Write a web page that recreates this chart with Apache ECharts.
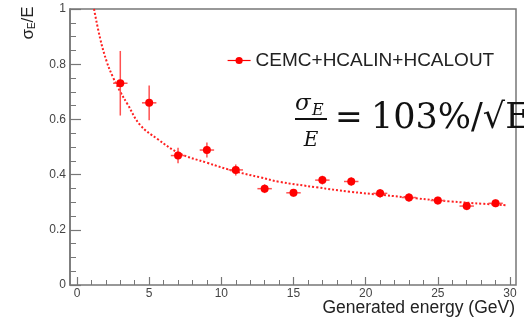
<!DOCTYPE html>
<html>
<head>
<meta charset="utf-8">
<script src="https://cdn.jsdelivr.net/npm/echarts@6/dist/echarts.min.js"></script>
<style>
  html, body { margin: 0; padding: 0; background: #fff; }
  #chart { width: 524px; height: 320px; }
</style>
</head>
<body>
<div id="chart"></div>
<script>
// Energy resolution of the combined calorimeter system vs. generated energy
const seriesName = 'CEMC+HCALIN+HCALOUT';
const xTitle = 'Generated energy (GeV)';
const energies   = [3, 5, 7, 9, 11, 13, 15, 17, 19, 21, 23, 25, 27, 29];
const resolution = [0.731, 0.660, 0.469, 0.489, 0.417, 0.349, 0.334, 0.380, 0.375, 0.332, 0.317, 0.306, 0.286, 0.296];
const resErr     = [0.117, 0.063, 0.028, 0.027, 0.020, 0.016, 0.014, 0.016, 0.015, 0.016, 0.015, 0.014, 0.015, 0.014];
const energyErr  = [0.5, 0.5, 0.5, 0.5, 0.5, 0.5, 0.5, 0.5, 0.5, 0.5, 0.5, 0.5, 0.5, 0.5];

// Fitted resolution curve, sampled along the energy axis
const fitEnergy = [1.18, 1.6, 2.06, 2.5, 3.0, 3.5, 4.37, 5.6, 7.1, 9.0, 11.0, 12.7, 14.0, 16.6, 18.9, 21.2, 23.5, 25.8, 28.2, 29.7];
const fitValue  = [1.0, 0.894, 0.809, 0.752, 0.700, 0.655, 0.580, 0.528, 0.477, 0.443, 0.411, 0.390, 0.374, 0.354, 0.338, 0.326, 0.314, 0.303, 0.294, 0.289];

const xTicks = { min: 0, max: 30, step: 5 };
const yTicks = { min: 0, max: 1, step: 0.2 };

const red = '#ff0000';
const axisGray = '#777777';
const labelFont = 'Liberation Sans';
const mathFont = '"DejaVu Serif"';

const points = energies.map((e, i) => [e, resolution[i]]);
const errBars = energies.map((e, i) => [e, resolution[i], energyErr[i], resErr[i]]);
const fitLine = fitEnergy.map((e, i) => [e, fitValue[i]]);

const chart = echarts.init(document.getElementById('chart'), null, { renderer: 'canvas' });

chart.setOption({
  backgroundColor: '#ffffff',
  animation: false,
  grid: [
    // frame + vertical axis
    { left: 70, right: 8, top: 9, bottom: 35, outerBoundsMode: 'none', containLabel: false,
      show: true, borderColor: axisGray, borderWidth: 1.5, backgroundColor: 'transparent' },
    // data area, energy axis starting a little right of the frame
    { left: 77, right: 14, top: 9, bottom: 35, outerBoundsMode: 'none', containLabel: false }
  ],
  xAxis: [
    { gridIndex: 0, type: 'value', min: 0, max: 1, show: false },
    {
      gridIndex: 1, type: 'value', min: xTicks.min, max: xTicks.max, interval: xTicks.step,
      axisLine: { show: false },
      axisTick: { show: true, inside: true, length: 8, lineStyle: { color: axisGray, width: 1.2 } },
      minorTick: { show: true, splitNumber: 5, length: 5, lineStyle: { color: axisGray, width: 1 } },
      splitLine: { show: false },
      axisLabel: { color: '#444', fontSize: 12, fontFamily: labelFont, margin: 3 }
    }
  ],
  yAxis: [
    {
      gridIndex: 0, type: 'value', min: yTicks.min, max: yTicks.max, interval: yTicks.step,
      axisLine: { show: true, lineStyle: { color: axisGray, width: 1.5 } },
      axisTick: { show: true, inside: true, length: 11, lineStyle: { color: axisGray, width: 1.2 } },
      minorTick: { show: true, splitNumber: 4, length: 6, lineStyle: { color: axisGray, width: 1 } },
      splitLine: { show: false },
      axisLabel: { color: '#444', fontSize: 12, fontFamily: labelFont, margin: 4 }
    },
    { gridIndex: 1, type: 'value', min: yTicks.min, max: yTicks.max, show: false }
  ],
  legend: {
    data: [seriesName],
    left: 227,
    top: 51,
    padding: 0,
    itemWidth: 23,
    itemHeight: 9,
    textStyle: { color: '#222', fontSize: 19, fontFamily: labelFont },
    lineStyle: { color: red, width: 1.2, opacity: 1 },
    itemStyle: { color: red }
  },
  graphic: [
    // horizontal axis title, right-aligned to the frame
    { type: 'text', x: 515, y: 308, style: { text: xTitle, font: '17.5px "Liberation Sans"', fill: '#222', align: 'right', verticalAlign: 'middle' } },
    // vertical axis title
    {
      type: 'text', x: 28, y: 23, rotation: Math.PI / 2,
      style: {
        text: '{a|σ}{b|E}{a|/E}',
        align: 'center', verticalAlign: 'middle',
        rich: {
          a: { fontSize: 17, fontFamily: labelFont, fill: '#222', color: '#222' },
          b: { fontSize: 10, fontFamily: labelFont, fill: '#222', color: '#222', verticalAlign: 'bottom', padding: [9, 0, 0, 0] }
        }
      }
    },
    // resolution formula
    { type: 'text', x: 295, y: 104, style: { text: 'σ', font: 'italic 23px ' + mathFont, fill: '#111', align: 'left', verticalAlign: 'middle' } },
    { type: 'text', x: 312, y: 111, style: { text: 'E', font: 'italic 16px ' + mathFont, fill: '#111', align: 'left', verticalAlign: 'middle' } },
    { type: 'line', shape: { x1: 295, y1: 119, x2: 327, y2: 119 }, style: { stroke: '#111', lineWidth: 2 } },
    { type: 'text', x: 311, y: 141, style: { text: 'E', font: 'italic 20px ' + mathFont, fill: '#111', align: 'center', verticalAlign: 'middle' } },
    { type: 'text', x: 335, y: 119, style: { text: '=', font: '33px ' + mathFont, fill: '#111', align: 'left', verticalAlign: 'middle' } },
    { type: 'text', x: 371, y: 119, style: { text: '103%/√E', font: '35px ' + mathFont, fill: '#111', align: 'left', verticalAlign: 'middle' } }
  ],
  series: [
    {
      name: 'fit',
      type: 'line',
      xAxisIndex: 1, yAxisIndex: 1,
      data: fitLine,
      smooth: 0.4,
      showSymbol: false,
      silent: true,
      lineStyle: { color: '#ff2020', width: 2, type: [2, 2] },
      z: 2
    },
    {
      name: 'errors',
      type: 'custom',
      xAxisIndex: 1, yAxisIndex: 1,
      data: errBars,
      silent: true,
      z: 3,
      renderItem: function (params, api) {
        const x = api.value(0), y = api.value(1), ex = api.value(2), ey = api.value(3);
        const l = api.coord([x - ex, y]);
        const r = api.coord([x + ex, y]);
        const t = api.coord([x, y + ey]);
        const b = api.coord([x, y - ey]);
        const st = { stroke: '#ff5050', lineWidth: 1.5 };
        return {
          type: 'group',
          children: [
            { type: 'line', shape: { x1: l[0], y1: l[1], x2: r[0], y2: r[1] }, style: st },
            { type: 'line', shape: { x1: t[0], y1: t[1], x2: b[0], y2: b[1] }, style: st }
          ]
        };
      }
    },
    {
      name: seriesName,
      type: 'line',
      xAxisIndex: 1, yAxisIndex: 1,
      data: points,
      symbol: 'circle',
      symbolSize: 8,
      showSymbol: true,
      itemStyle: { color: red },
      lineStyle: { width: 0, opacity: 0 },
      z: 4
    }
  ]
});
</script>
</body>
</html>
